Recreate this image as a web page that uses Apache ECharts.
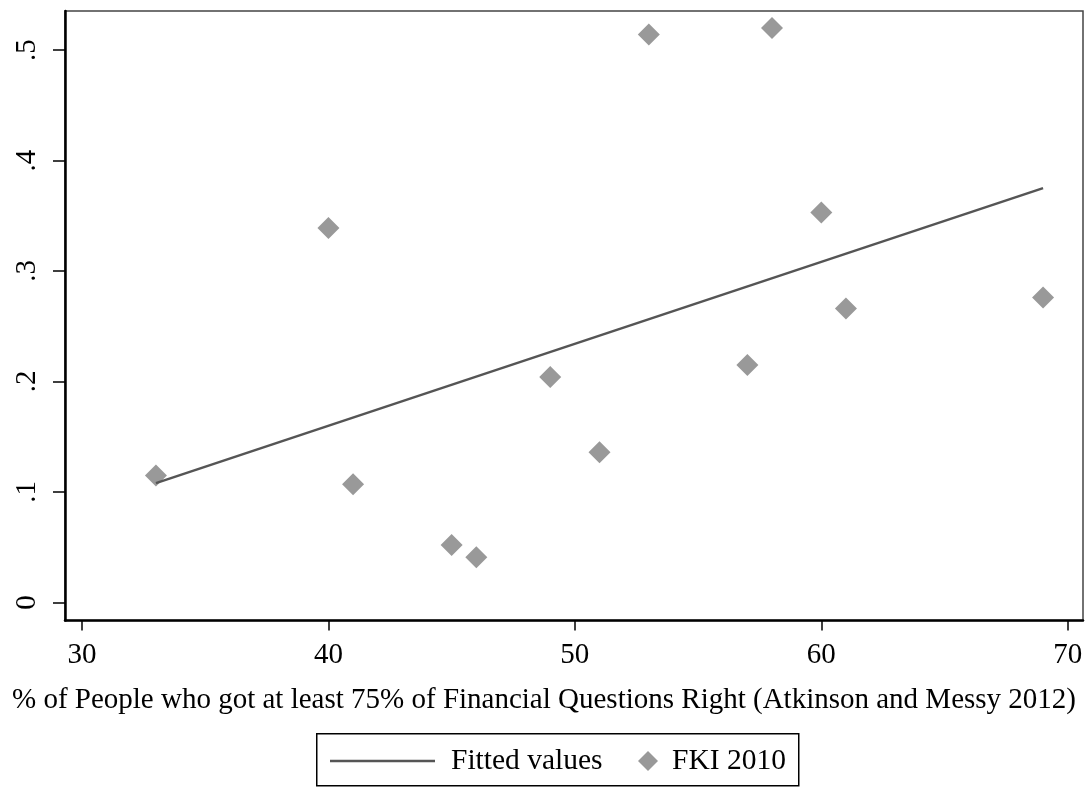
<!DOCTYPE html>
<html>
<head>
<meta charset="utf-8">
<script src="https://cdn.jsdelivr.net/npm/echarts@6/dist/echarts.min.js"></script>
<style>
html,body{margin:0;padding:0;background:#fff;}
#c{width:1089px;height:787px;}
</style>
</head>
<body>
<div id="c"></div>
<script>
const pointX = [33, 40, 41, 45, 46, 49, 51, 53, 57, 58, 60, 61, 69];
const pointY = [0.115, 0.339, 0.107, 0.052, 0.041, 0.204, 0.136, 0.514, 0.215, 0.520, 0.353, 0.266, 0.276];
const fitX = [33, 69];
const fitY = [0.108, 0.375];
const xTicks = [30, 40, 50, 60, 70];
const yTicks = [0, 0.1, 0.2, 0.3, 0.4, 0.5];
const yTickLabels = ['0', '.1', '.2', '.3', '.4', '.5'];
const xTitle = '% of People who got at least 75% of Financial Questions Right (Atkinson and Messy 2012)';
const seriesNames = ['Fitted values', 'FKI 2010'];

const FONT = 'Liberation Serif';
const chart = echarts.init(document.getElementById('c'), null, {renderer: 'canvas'});
chart.setOption({
  backgroundColor: '#fff',
  animation: false,
  grid: {
    left: 65, top: 11, right: 6, bottom: 166.5,
    show: true, borderColor: '#444', borderWidth: 1.5, backgroundColor: '#fff'
  },
  xAxis: {
    type: 'value', min: 29.31, max: 70.62,
    name: xTitle, nameLocation: 'middle', nameGap: 65,
    nameTextStyle: {fontFamily: FONT, fontSize: 29, color: '#000', padding: [0, 60, 0, 0]},
    axisLine: {show: true, onZero: false, lineStyle: {color: '#000', width: 2.5}},
    axisTick: {show: true, length: 10, customValues: xTicks, lineStyle: {color: '#000', width: 1.5}},
    axisLabel: {customValues: xTicks, fontFamily: FONT, fontSize: 29, color: '#000', margin: 20},
    splitLine: {show: false}
  },
  yAxis: {
    type: 'value', min: -0.0163, max: 0.5353,
    axisLine: {show: true, onZero: false, lineStyle: {color: '#000', width: 2.5}},
    axisTick: {show: true, length: 12, customValues: yTicks, lineStyle: {color: '#000', width: 1.5}},
    axisLabel: {
      customValues: yTicks, rotate: 90, fontFamily: FONT, fontSize: 29, color: '#000', margin: 23,
      formatter: function (v) {
        const i = yTicks.findIndex(t => Math.abs(t - v) < 1e-6);
        return i >= 0 ? yTickLabels[i] : '';
      }
    },
    splitLine: {show: false}
  },
  legend: [
    {
      data: [{name: seriesNames[0], icon: 'rect'}], left: 330, top: 746, itemWidth: 105, itemHeight: 2.5, padding: 0,
      textStyle: {fontFamily: FONT, fontSize: 29.5, color: '#000', padding: [0, 0, 0, 11]},
      selectedMode: false
    },
    {
      data: [{name: seriesNames[1], icon: 'diamond'}], left: 638, top: 746, itemWidth: 20, itemHeight: 20, padding: 0,
      textStyle: {fontFamily: FONT, fontSize: 29.5, color: '#000', padding: [0, 0, 0, 9]},
      selectedMode: false
    }
  ],
  graphic: [{
    type: 'rect', left: 316, top: 733, z: -1,
    shape: {width: 482, height: 52},
    style: {fill: '#fff', stroke: '#000', lineWidth: 1.5}
  }],
  series: [
    {
      name: seriesNames[0], type: 'line', symbol: 'none',
      data: fitX.map((x, i) => [x, fitY[i]]),
      lineStyle: {color: '#555', width: 2.5}, itemStyle: {color: '#555'}, z: 3
    },
    {
      name: seriesNames[1], type: 'scatter', symbol: 'diamond', symbolSize: 22,
      data: pointX.map((x, i) => [x, pointY[i]]),
      itemStyle: {color: '#999', opacity: 1}, z: 2
    }
  ]
});
</script>
</body>
</html>
